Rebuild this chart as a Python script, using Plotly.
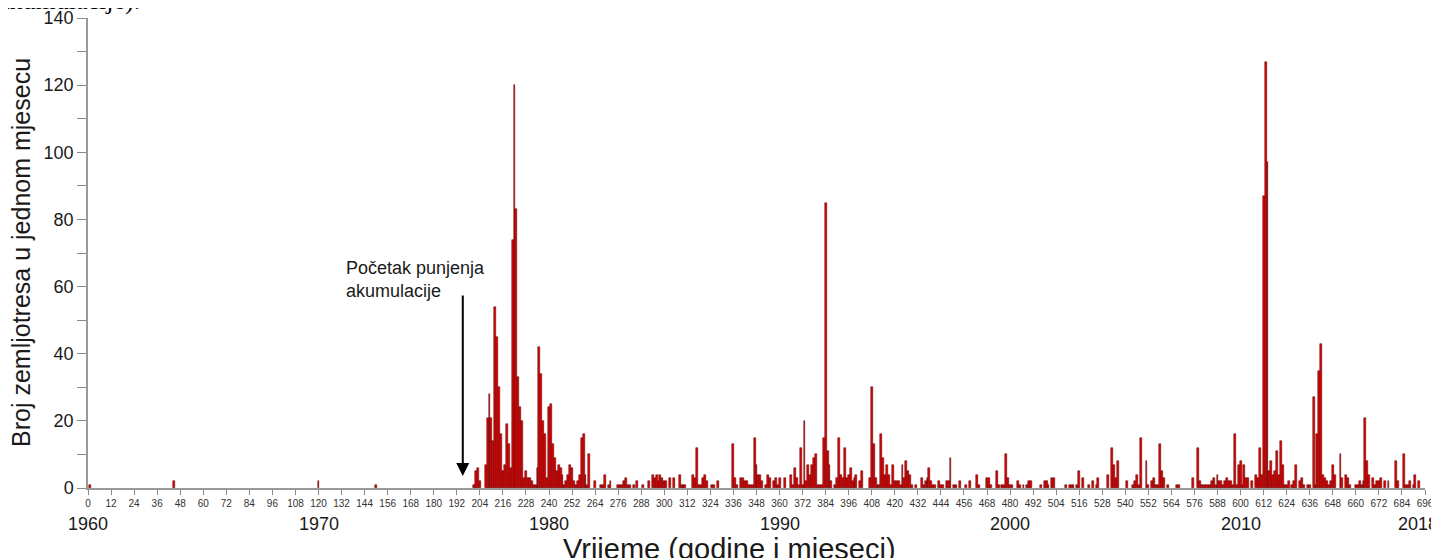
import plotly.graph_objects as go

# ---- data: monthly earthquake counts (month index 0 = Jan 1960) ----
early_months = [1, 45, 120, 150]
early_counts = [1, 2, 2, 1]

start_1976 = 200
counts_200_299 = [0, 1, 5, 6, 2, 0, 0, 7, 21, 28,
                  21, 14, 54, 45, 30, 16, 5, 7, 19, 13,
                  6, 74, 120, 83, 33, 24, 20, 3, 5, 3,
                  3, 2, 1, 1, 6, 42, 34, 20, 16, 3,
                  24, 25, 13, 9, 5, 7, 6, 4, 1, 2,
                  4, 7, 6, 2, 1, 2, 4, 15, 16, 4,
                  1, 10, 0, 0, 2, 0, 0, 1, 1, 4,
                  0, 1, 2, 0, 0, 0, 1, 1, 1, 2,
                  3, 1, 1, 0, 1, 0, 2, 0, 0, 1,
                  0, 0, 2, 0, 4, 3, 4, 2, 4, 3]
counts_300_399 = [2, 2, 0, 3, 0, 3, 0, 0, 4, 1,
                  1, 1, 0, 0, 0, 4, 3, 12, 1, 1,
                  3, 4, 2, 0, 0, 1, 1, 0, 2, 0,
                  0, 0, 0, 0, 0, 0, 13, 3, 1, 0,
                  3, 3, 2, 2, 1, 1, 1, 15, 7, 4,
                  4, 2, 0, 1, 4, 3, 0, 2, 3, 1,
                  3, 0, 0, 3, 0, 0, 4, 1, 6, 3,
                  1, 12, 1, 20, 2, 7, 4, 7, 9, 10,
                  1, 1, 1, 15, 85, 11, 7, 2, 0, 1,
                  3, 15, 4, 3, 12, 3, 4, 6, 2, 3]
counts_400_499 = [4, 0, 2, 5, 0, 0, 0, 3, 30, 13,
                  3, 1, 1, 16, 9, 4, 7, 4, 1, 7,
                  2, 2, 2, 1, 7, 3, 8, 5, 4, 1,
                  0, 1, 0, 0, 3, 1, 2, 3, 6, 2,
                  1, 1, 0, 2, 1, 1, 0, 2, 2, 9,
                  0, 1, 1, 0, 2, 0, 0, 1, 0, 2,
                  0, 0, 0, 4, 1, 0, 0, 0, 3, 3,
                  1, 0, 0, 5, 1, 0, 1, 1, 10, 3,
                  1, 1, 0, 0, 2, 1, 0, 1, 0, 1,
                  2, 2, 0, 0, 0, 0, 1, 0, 2, 2]
counts_500_599 = [1, 0, 3, 3, 0, 0, 0, 0, 0, 1,
                  0, 1, 1, 1, 0, 1, 5, 0, 3, 0,
                  0, 1, 0, 2, 0, 1, 3, 0, 0, 0,
                  0, 4, 0, 12, 7, 3, 8, 0, 0, 0,
                  0, 2, 0, 0, 1, 2, 4, 1, 15, 0,
                  0, 8, 1, 0, 2, 3, 1, 1, 13, 5,
                  3, 0, 1, 0, 0, 0, 0, 1, 1, 0,
                  0, 0, 0, 0, 0, 3, 0, 0, 12, 2,
                  1, 1, 1, 1, 1, 2, 3, 1, 4, 2,
                  2, 1, 2, 3, 2, 2, 1, 16, 1, 7]
counts_600_695 = [8, 1, 7, 3, 3, 0, 2, 0, 4, 3,
                  12, 4, 87, 127, 97, 5, 8, 4, 5, 11,
                  4, 14, 7, 1, 1, 2, 0, 1, 2, 7,
                  0, 2, 3, 1, 0, 1, 1, 0, 27, 1,
                  16, 35, 43, 4, 3, 2, 1, 2, 7, 4,
                  0, 0, 10, 3, 0, 4, 3, 1, 0, 0,
                  1, 1, 2, 1, 2, 21, 8, 4, 0, 3,
                  1, 2, 2, 3, 0, 2, 0, 2, 0, 0,
                  0, 8, 2, 0, 0, 10, 1, 1, 2, 0,
                  1, 4, 0, 2, 0, 0]

month_ticks = list(range(0, 697, 12))
year_months = [0, 120, 240, 360, 480, 600, 696]
year_labels = ["1960", "1970", "1980", "1990", "2000", "2010", "2018"]
y_ticks = list(range(0, 141, 20))

# ---- assemble ----
late_counts = counts_200_299 + counts_300_399 + counts_400_499 + counts_500_599 + counts_600_695
late_months = list(range(start_1976, start_1976 + len(late_counts)))
months = early_months + late_months
counts = early_counts + late_counts
x_vals = [m for m, c in zip(months, counts) if c > 0]
y_vals = [c for c in counts if c > 0]

FONT = "Liberation Sans, Arial, sans-serif"

fig = go.Figure()
fig.add_trace(go.Bar(
    x=x_vals, y=y_vals, width=1,
    marker=dict(color="#e60000", line=dict(color="#4a0000", width=0.5)),
    hoverinfo="x+y",
))

# the page body has an 8 px margin, so the figure div starts at (8, 8)
OFF = 8
W, H = 1439 - OFF, 558 - OFF
L, T = 88 - OFF, 18 - OFF
pw, ph = 1337, 470
R, B = W - L - pw, H - T - ph


def px_x(p):  # page pixel -> paper x
    return (p - OFF - L) / pw


def px_y(p):  # page pixel -> paper y
    return (T + ph - (p - OFF)) / ph


annotations = []
for m, lab in zip(year_months, year_labels):
    last = (m == year_months[-1])
    annotations.append(dict(x=m - (3.5 if last else 0), xref="x", y=px_y(524), yref="paper",
                            text=lab, showarrow=False, xanchor="center", yanchor="middle",
                            font=dict(family=FONT, size=18, color="#1a1a1a")))

annotations.append(dict(x=px_x(729), xref="paper", y=px_y(549), yref="paper",
                        text="Vrijeme (godine i mjeseci)", showarrow=False,
                        xanchor="center", yanchor="middle",
                        font=dict(family=FONT, size=29, color="#1a1a1a")))
annotations.append(dict(x=px_x(21), xref="paper", y=px_y(253), yref="paper",
                        text="Broj zemljotresa u jednom mjesecu", showarrow=False,
                        textangle=-90, xanchor="center", yanchor="middle",
                        font=dict(family=FONT, size=25, color="#1a1a1a")))
annotations.append(dict(x=133.4, xref="x", y=62, yref="y",
                        text="Početak punjenja<br>akumulacije", showarrow=False,
                        xanchor="left", yanchor="middle", align="left",
                        font=dict(family=FONT, size=18, color="#1a1a1a")))
annotations.append(dict(x=195.1, xref="x", y=3.6, yref="y", text="",
                        showarrow=True, ax=0, ay=-182, arrowhead=2,
                        arrowsize=1.3, arrowwidth=2, arrowcolor="#000000"))
annotations.append(dict(x=px_x(-4), xref="paper", y=px_y(1), yref="paper",
                        text="akumulacije).", showarrow=False,
                        xanchor="left", yanchor="middle",
                        font=dict(family="Liberation Serif, Times New Roman, serif",
                                  size=26, color="#000000")))

fig.update_layout(
    width=W, height=H,
    margin=dict(l=L, r=R, t=T, b=B, pad=0, autoexpand=False),
    paper_bgcolor="white", plot_bgcolor="white",
    bargap=0, showlegend=False,
    annotations=annotations,
    xaxis=dict(range=[0, 696], tickmode="array", tickvals=month_ticks,
               ticktext=[str(t) for t in month_ticks], tickangle=0,
               ticks="outside", ticklen=5, tickwidth=1.2, tickcolor="#8a8a8a",
               showline=True, linecolor="#9a9a9a", linewidth=1.5,
               showgrid=False, zeroline=False, automargin=False,
               tickfont=dict(family=FONT, size=10, color="#333333")),
    yaxis=dict(range=[0, 140], tickmode="array", tickvals=y_ticks,
               ticks="outside", ticklen=9, tickwidth=1.2, tickcolor="#8a8a8a",
               minor=dict(dtick=10, ticks="outside", ticklen=9, tickcolor="#8a8a8a",
                          tickwidth=1.2, showgrid=False),
               showline=True, linecolor="#9a9a9a", linewidth=1.5,
               showgrid=False, zeroline=False, automargin=False,
               tickfont=dict(family=FONT, size=18, color="#1a1a1a")),
)

fig.write_html("out.html")
